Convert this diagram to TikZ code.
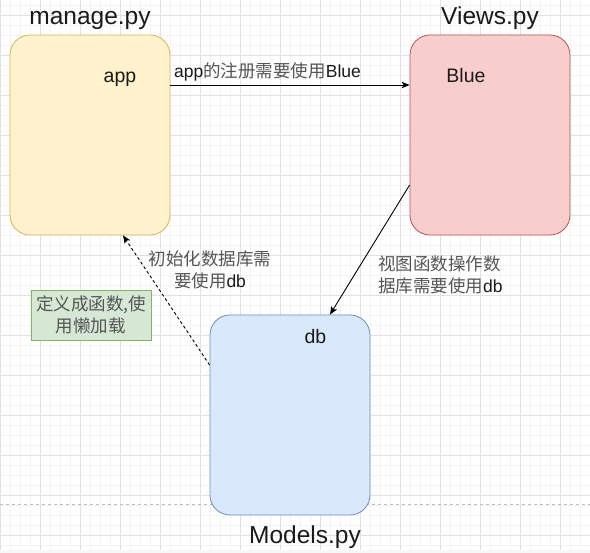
\documentclass[tikz,border=0pt]{standalone}
\usepackage{fontspec}
\setmainfont{Liberation Sans}
\newfontfamily\cjkfont{Noto Sans CJK SC}
\usetikzlibrary{arrows.meta}
\definecolor{yfill}{HTML}{FFF2CC}\definecolor{ydraw}{HTML}{D6B656}
\definecolor{rfill}{HTML}{F8CECC}\definecolor{rdraw}{HTML}{B85450}
\definecolor{bfill}{HTML}{DAE8FC}\definecolor{bdraw}{HTML}{6C8EBF}
\definecolor{gfill}{HTML}{D5E8D4}\definecolor{gdraw}{HTML}{82B366}
\definecolor{gridmajor}{HTML}{E2E2E2}
\definecolor{gridminor}{HTML}{F4F4F4}
\definecolor{cjkgray}{HTML}{555555}
\definecolor{txt}{HTML}{1A1A1A}
\newcommand{\zh}[1]{{\cjkfont\color{cjkgray}#1}}
\tikzset{
  filebox/.style={rounded corners=20pt, minimum width=160pt, minimum height=200pt, inner sep=0pt, line width=0.8pt},
  notebox/.style={fill=gfill, draw=gdraw, minimum width=120pt, minimum height=50pt, inner sep=0pt, line width=0.8pt, align=center, font=\fontsize{17.5}{22}\selectfont},
  boxtext/.style={font=\fontsize{19.5}{23}\selectfont, text=txt, inner sep=0pt},
  titletext/.style={font=\fontsize{24.5}{28}\selectfont, text=txt, inner sep=0pt},
  toplbl/.style={font=\fontsize{17.5}{22}\selectfont, text=txt, inner sep=0pt},
  sidelbl/.style={font=\fontsize{17.5}{22}\selectfont, text=txt, inner sep=0pt},
  conn/.style={draw=black, line width=0.9pt, -{Stealth[length=8pt,width=6.5pt,inset=2pt]}},
  dashconn/.style={conn, dash pattern=on 3pt off 2.5pt}
}
\begin{document}
\begin{tikzpicture}[x=1pt,y=-1pt]
\useasboundingbox (0,0) rectangle (590,553);
% background grid
\fill[white] (0,0) rectangle (590,550);
\fill[gridminor!70!white] (0,550) rectangle (590,553);
\foreach \x in {10,20,...,590} \draw[gridminor, line width=0.8pt] (\x,0) -- (\x,550);
\foreach \y in {5,15,...,545} \draw[gridminor, line width=0.8pt] (0,\y) -- (590,\y);
\foreach \x in {0,40,...,560} \draw[gridmajor, line width=0.8pt] (\x,0) -- (\x,550);
\foreach \y in {15,55,...,535} \draw[gridmajor, line width=0.8pt] (0,\y) -- (590,\y);
\draw[black!25, line width=0.7pt, dash pattern=on 3pt off 3pt] (0,504) -- (590,504);

% boxes
\node[filebox, fill=yfill, draw=ydraw] (manage) at (90,135) {};
\node[filebox, fill=rfill, draw=rdraw] (views) at (490,135) {};
\node[filebox, fill=bfill, draw=bdraw] (models) at (290,415) {};
\node[notebox] (lazy) at (91,315) {\zh{定义成函数,使}\\\zh{用懒加载}};

% box texts
\node[boxtext, anchor=base] (apptxt) at (120,83) {app};
\node[boxtext, anchor=base] (bluetxt) at (466,83) {Blue};
\node[boxtext, anchor=base] (dbtxt) at (315.5,344) {db};

% titles
\node[titletext, anchor=base] (managetitle) at (90,25) {manage.py};
\node[titletext, anchor=base] (viewstitle) at (490,25) {Views.py};
\node[titletext, anchor=base] (modelstitle) at (305,544) {Models.py};

% connectors
\draw[conn] ([yshift=50pt]manage.east) -- ([yshift=50pt]views.west);
\draw[conn] ([yshift=-50pt]views.west) -- ([xshift=40pt]models.north);
\draw[dashconn] ([yshift=50pt]models.west) -- ([xshift=33pt]manage.south);

% connector labels
\node[toplbl, anchor=base west] (lbl1) at (174,78) {app\zh{的注册需要使用}Blue};
\node[sidelbl, align=center] (lbl2) at (210,270) {\zh{初始化数据库需}\\\zh{要使用}db};
\node[sidelbl, align=left, anchor=west] (lbl3) at (378,275) {\zh{视图函数操作数}\\\zh{据库需要使用}db};
\end{tikzpicture}
\end{document}
